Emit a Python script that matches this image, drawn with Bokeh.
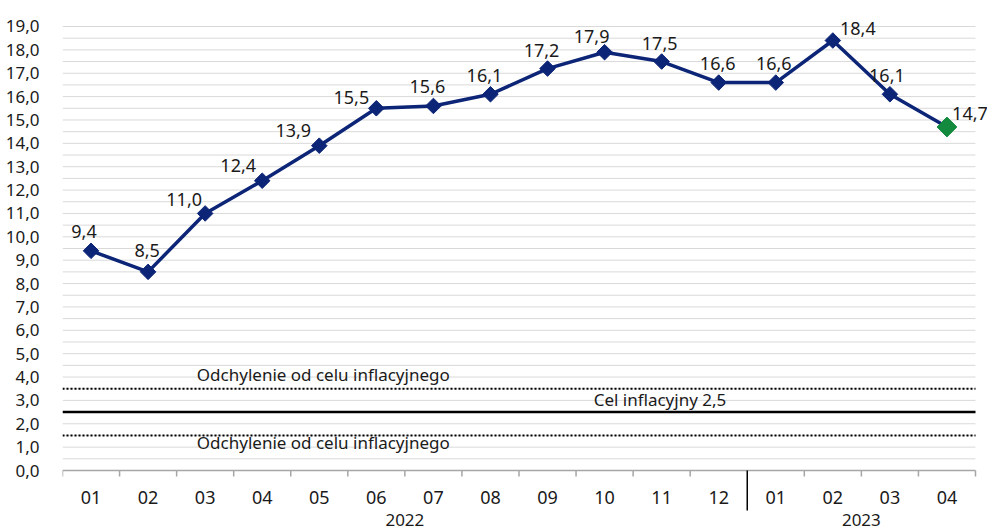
import math
from bokeh.plotting import figure
from bokeh.models import ColumnDataSource, FixedTicker, Range1d
from bokeh.core.properties import value
from bokeh.embed import file_html
from bokeh.resources import INLINE

# ---- data ----
months = ["01", "02", "03", "04", "05", "06", "07", "08", "09", "10", "11", "12",
          "01", "02", "03", "04"]
years = ["2022", "2023"]
year_months = [12, 4]
cpi = [9.4, 8.5, 11.0, 12.4, 13.9, 15.5, 15.6, 16.1, 17.2, 17.9, 17.5, 16.6,
       16.6, 18.4, 16.1, 14.7]
target = 2.5
band_upper = 3.5
band_lower = 1.5
band_label = "Odchylenie od celu inflacyjnego"
target_label = "Cel inflacyjny 2,5"
y_ticks = list(range(0, 20))
grid_levels = [t / 2 for t in range(1, 39)]

# label offsets (pixels) - styling
lab_dx = [-7, -1, -21, -24, -26, -25, -6, -6, -6, -13, -2, -1, -2, 25, -3, 23]
lab_dy = [19, 21, 14, 15, 15, 11, 19, 19, 18, 16, 18, 19, 19, 12, 19, 13]

FONT = "Noto Sans"
NAVY = "#0c2577"
GREEN = "#138a3e"
TXT = "#1a1a1a"

n = len(months)
xs = [i + 0.5 for i in range(n)]
px_per_unit = 23.37
px_per_cat = 57.06

p = figure(width=987, height=531, output_backend="svg", toolbar_location=None,
           x_range=Range1d(0, n + 12 / px_per_cat),
           y_range=Range1d(-61 / px_per_unit, 19 + 10 / px_per_unit),
           min_border_left=62, min_border_right=0, min_border_top=16, min_border_bottom=0,
           x_axis_location=None)
p.outline_line_color = None
p.background_fill_color = "white"
p.border_fill_color = "white"

# grid (drawn over the category span only)
p.xgrid.visible = False
p.ygrid.visible = False
p.segment(x0=[0] * len(grid_levels), y0=grid_levels, x1=[n] * len(grid_levels), y1=grid_levels,
          line_color="#d9d9d9", line_width=1)

# y axis
p.yaxis.ticker = FixedTicker(ticks=y_ticks)
p.yaxis.major_label_overrides = {t: f"{t},0" for t in y_ticks}
p.yaxis.axis_line_color = None
p.yaxis.major_tick_line_color = None
p.yaxis.minor_tick_line_color = None
p.yaxis.major_label_standoff = 17
p.yaxis.major_label_text_font = FONT
p.yaxis.major_label_text_font_size = "17px"
p.yaxis.major_label_text_color = TXT

# reference lines
p.line([0, n], [band_upper, band_upper], line_color="black", line_width=2, line_dash="2 2")
p.line([0, n], [band_lower, band_lower], line_color="black", line_width=2, line_dash="2 2")
p.line([0, n], [target, target], line_color="black", line_width=2.5)

p.text(x=[4.57], y=[band_upper + 0.6], text=[band_label], text_font=value(FONT),
       text_font_size="17px", text_align="center", text_baseline="middle", text_color=TXT)
p.text(x=[4.57], y=[band_lower - 0.3], text=[band_label], text_font=value(FONT),
       text_font_size="17px", text_align="center", text_baseline="middle", text_color=TXT)
p.text(x=[10.47], y=[target + 0.55], text=[target_label], text_font=value(FONT),
       text_font_size="17px", text_align="center", text_baseline="middle", text_color=TXT)

# x axis (drawn)
p.line([0, n], [0, 0], line_color="#a6a6a6", line_width=1.5)
tick_x = [i for i in range(n + 1) if i != year_months[0]]
tick_len = 6 / px_per_unit
p.segment(x0=tick_x, y0=[0] * len(tick_x), x1=tick_x, y1=[-tick_len] * len(tick_x),
          line_color="#a6a6a6", line_width=1.5)
p.segment(x0=[year_months[0]], y0=[0], x1=[year_months[0]], y1=[-40 / px_per_unit],
          line_color="black", line_width=1.5)
p.text(x=xs, y=[-27 / px_per_unit] * n, text=months, text_font=value(FONT),
       text_font_size="18px", text_align="center", text_baseline="middle", text_color=TXT)
year_x = [year_months[0] / 2, year_months[0] + year_months[1] / 2]
p.text(x=year_x, y=[-49 / px_per_unit] * 2, text=years, text_font=value(FONT),
       text_font_size="17px", text_align="center", text_baseline="middle", text_color=TXT)

# series
src = ColumnDataSource(dict(x=xs, y=cpi, lab=[f"{v:.1f}".replace(".", ",") for v in cpi],
                            dx=lab_dx, dy=[-d for d in lab_dy]))
p.line("x", "y", source=src, line_color=NAVY, line_width=3.5)
p.scatter(xs[:-1], cpi[:-1], marker="square", size=11, angle=math.pi / 4,
          fill_color=NAVY, line_color=NAVY)
p.scatter(xs[-1:], cpi[-1:], marker="square", size=14, angle=math.pi / 4,
          fill_color=GREEN, line_color=GREEN)
p.text("x", "y", text="lab", source=src, x_offset="dx", y_offset="dy",
       text_font=value(FONT), text_font_size="18px", text_align="center",
       text_baseline="middle", text_color=TXT)

open("out.html", "w").write(file_html(p, INLINE))
